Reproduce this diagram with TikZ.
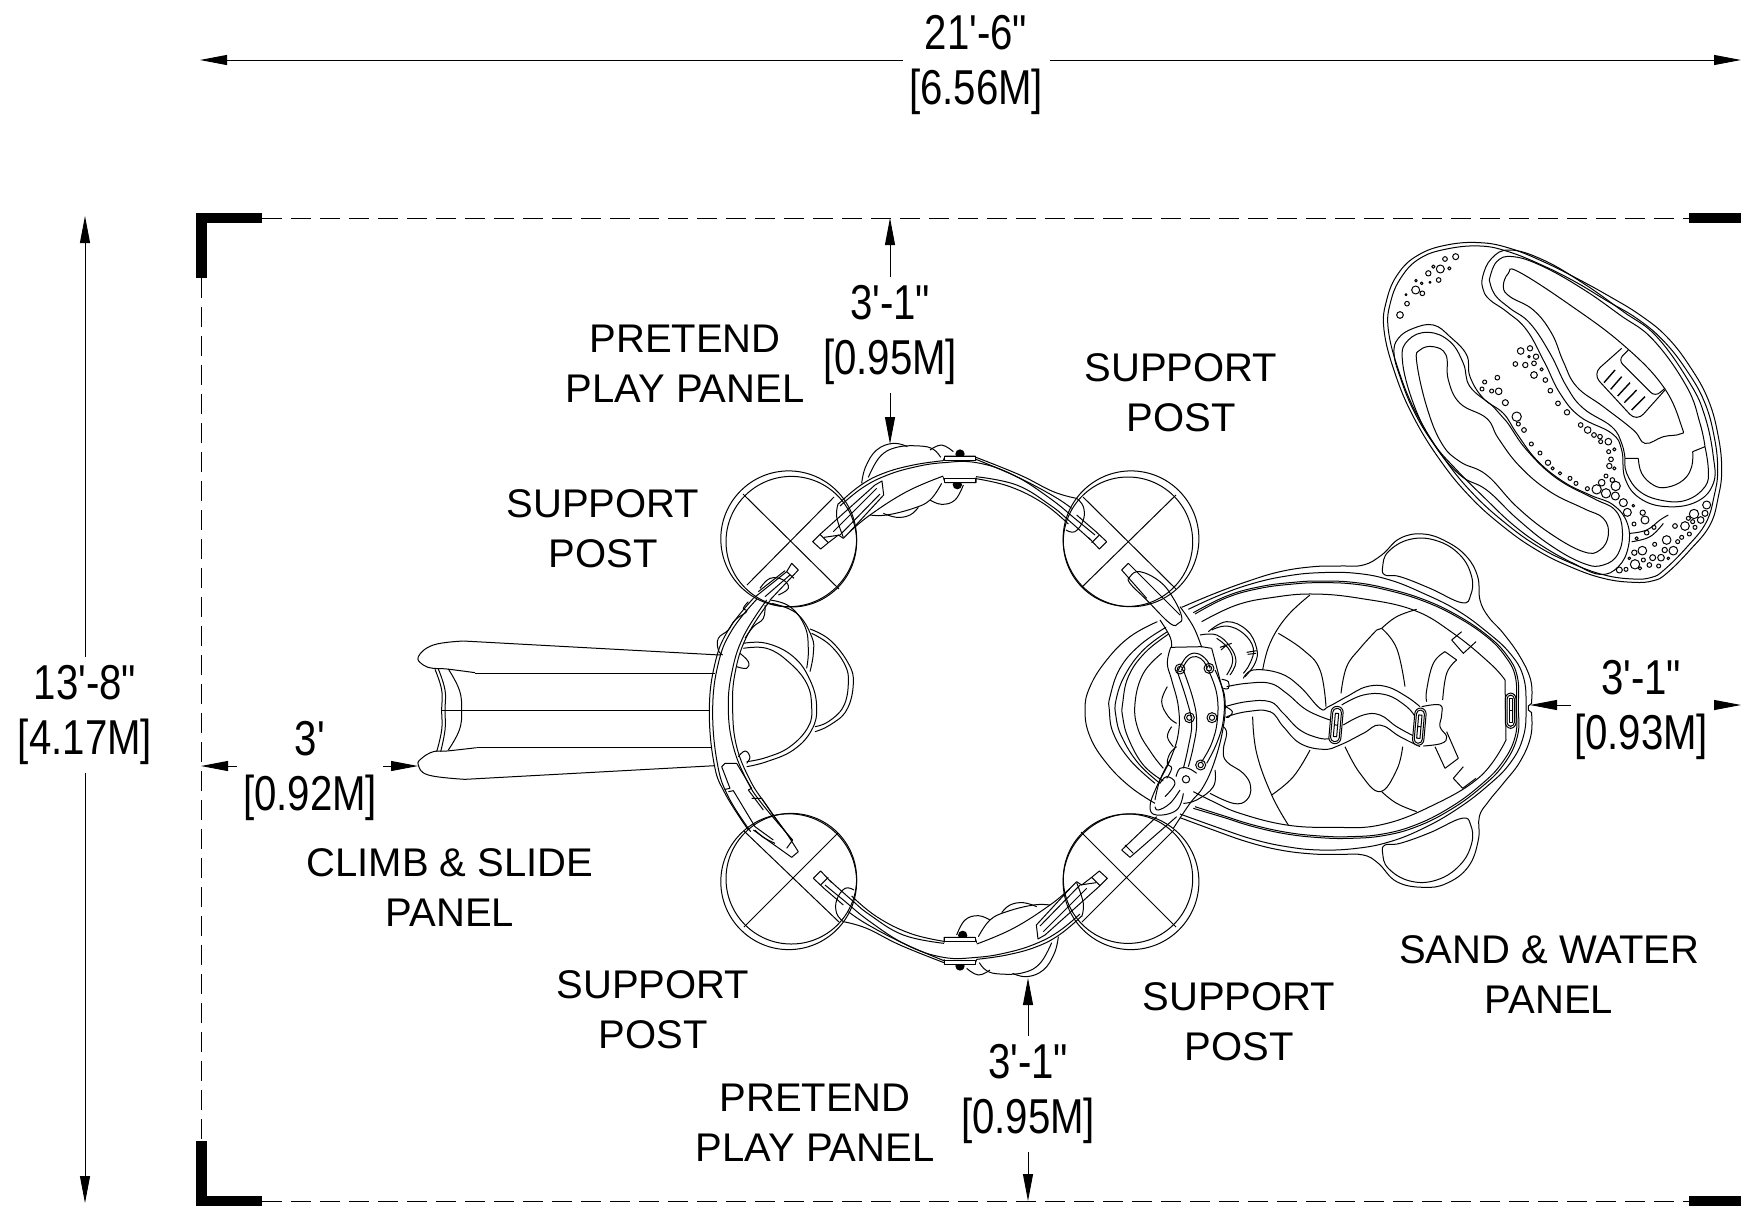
\documentclass[tikz,border=0pt]{standalone}
\usepackage{fontspec}
\usetikzlibrary{arrows.meta,calc}
\newfontfamily\cadfont{Liberation Sans}
\newcommand\cv[1]{\draw plot[smooth,tension=.7] coordinates {#1};}
\newcommand\cc[1]{\draw plot[smooth cycle,tension=.7] coordinates {#1};}
\newcommand\dsc[1]{\scalebox{.82}[1]{#1}}
\newcommand\ppanel{%
 \cv{(415,252)(480,197)(550,160)(640,135)(730,122)}
 \cv{(420,258)(485,205)(555,168)(640,142)(730,128)(830,128)(940,165)(1050,235)(1130,300)(1185,345)}
 \cv{(828,112)(960,165)(1060,215)(1130,235)}
 \cv{(828,118)(950,170)(1060,228)(1115,265)}
 \cv{(450,335)(510,285)(620,215)(730,168)}
 \cv{(828,170)(950,195)(1050,255)(1105,300)(1170,358)}
 \cv{(828,176)(930,200)(1030,250)(1105,312)}
 % plates and screws
 \draw (730,122)--(735,108)--(825,108)--(828,122);
 \draw (730,172)--(735,188)--(828,188)--(828,172);
 \fill (780,102) circle[radius=14];
 \fill (772,194) circle[radius=14];
 \draw[fill=white] (733,108) rectangle (826,120);
 \draw[fill=white] (733,176) rectangle (826,188);
 % left wide tab
 \draw (338,365)--(360,343)--(525,195)--(546,183)--(551,225)--(445,340)--(430,355)--(415,345)--(385,368)--(362,387)--cycle;
 \draw (360,343)--(385,368);
 \draw (372,352)--(420,345)--(540,222);
 \draw (400,335)--(530,205);
 % right thin tab
 \draw (1220,365)--(1198,387)--(1165,352);
 \draw (1220,365)--(1188,335)--(1130,285);
 \draw (1198,345)--(1175,368);
 % lobes behind
 \cv{(485,190)(497,140)(530,90)(580,70)(622,80)}
 \cv{(505,172)(540,110)(590,82)(660,78)(700,88)(722,112)}
 \cv{(690,90)(725,75)(760,95)}
 \cv{(510,285)(560,285)(640,265)(690,240)(725,190)}
 \cv{(550,280)(590,292)(630,285)(655,262)}
 \cv{(690,240)(725,253)(765,240)(790,195)}
 \cv{(415,250)(410,290)(430,352)}
 \cv{(1130,235)(1150,260)(1150,300)(1125,335)(1098,330)}
}
\begin{document}
\begin{tikzpicture}[x=.5pt,y=-.5pt,line width=.5pt,line join=round,
  dimarrow/.style={-{Triangle[length=13.5pt,width=5pt]},line width=.45pt},
  boundary/.style={dash pattern=on 10pt off 4.5pt,line width=.4pt},
  label/.style={font=\cadfont\fontsize{20}{25}\selectfont,align=center,inner sep=0pt},
  dimlabel/.style={font=\cadfont\fontsize{24.5}{27.5}\selectfont,align=center,inner xsep=3pt,inner ysep=4pt}]
\useasboundingbox (0,0) rectangle (1741,1206);

% boundary
\coordinate (tl) at (262,218); \coordinate (tr) at (1689,218);
\coordinate (lt) at (201,278); \coordinate (lb) at (201,1141);
\coordinate (bl) at (262,1201); \coordinate (br) at (1689,1201);
\draw[boundary] (tl)--(tr); \draw[boundary] (lt)--(lb); \draw[boundary] (bl)--(br);
\fill (196,213) rectangle (262,223);
\fill (196,213) rectangle (207,278);
\fill (196,1141) rectangle (207,1206);
\fill (196,1196) rectangle (262,1206);
\fill (1689,213) rectangle (1741,223);
\fill (1689,1196) rectangle (1741,1206);

% dimensions
\node[dimlabel] (dT) at (976,65) {\dsc{21'-6"}\\\dsc{[6.56M]}};
\coordinate (dTa) at (200,60); \coordinate (dTb) at (1741,60);
\draw[dimarrow] (dT.west|-dTa)--(dTa); \draw[dimarrow] (dT.east|-dTb)--(dTb);
\node[dimlabel] (dL) at (85,715) {\dsc{13'-8"}\\\dsc{[4.17M]}};
\coordinate (dLa) at (85,216); \coordinate (dLb) at (85,1203);
\draw[dimarrow] (dL.north)--(dLa); \draw[dimarrow] (dL.south)--(dLb);
\node[dimlabel] (d1) at (890,335) {\dsc{3'-1"}\\\dsc{[0.95M]}};
\coordinate (d1a) at (890,218); \coordinate (d1b) at (890,444);
\draw[dimarrow] (d1.north)--(d1a); \draw[dimarrow] (d1.south)--(d1b);
\node[dimlabel] (d2) at (1028,1094) {\dsc{3'-1"}\\\dsc{[0.95M]}};
\coordinate (d2a) at (1028,978); \coordinate (d2b) at (1028,1201);
\draw[dimarrow] (d2.north)--(d2a); \draw[dimarrow] (d2.south)--(d2b);
\node[dimlabel] (d3) at (310,771) {\dsc{3'}\\\dsc{[0.92M]}};
\coordinate (d3a) at (201,766); \coordinate (d3b) at (418,766);
\draw[dimarrow] ($(d3a)+(36,0)$)--(d3a); \draw[dimarrow] ($(d3b)+(-35,0)$)--(d3b);
\node[dimlabel] (d4) at (1641,710) {\dsc{3'-1"}\\\dsc{[0.93M]}};
\coordinate (d4a) at (1530,705); \coordinate (d4b) at (1741,705);
\draw[dimarrow] ($(d4a)+(41,0)$)--(d4a); \draw[dimarrow] ($(d4b)+(-26,0)$)--(d4b);

% labels
\node[label] (l1) at (685,364) {PRETEND\\PLAY PANEL};
\node[label] (l2) at (1181,393) {SUPPORT\\POST};
\node[label] (l3) at (603,529) {SUPPORT\\POST};
\node[label] (l4) at (450,888) {CLIMB \& SLIDE\\PANEL};
\node[label] (l5) at (653,1010) {SUPPORT\\POST};
\node[label] (l6) at (815,1123) {PRETEND\\PLAY PANEL};
\node[label] (l7) at (1239,1022) {SUPPORT\\POST};
\node[label] (l8) at (1549,975) {SAND \& WATER\\PANEL};

% posts
\draw (788.7,538.8) circle[radius=67.9]; \draw (791.3,541.7) circle[radius=65.3];
\draw (1131,538.8) circle[radius=67.9]; \draw (1128,541.7) circle[radius=64.7];
\draw (788.7,881.7) circle[radius=67.9]; \draw (791.3,878.7) circle[radius=65.3];
\draw (1131,881.7) circle[radius=67.9]; \draw (1128,878.7) circle[radius=64.7];
\draw (743,494)--(839,589) (834,497)--(747,585);
\draw (1083,497)--(1176,589) (1176,495)--(1082,587);
\draw (744,831)--(839,922) (838,833)--(744,927);
\draw (1081,832)--(1176,927) (1174,830)--(1082,922);

% pretend play panels
\begin{scope}[shift={(700,420)},scale=1/3]\ppanel\end{scope}
\begin{scope}[shift={(960,710)},rotate=180,shift={(-960,-710)},shift={(700,420)},scale=1/3]\ppanel\end{scope}

% climb and slide
\begin{scope}[shift={(400,550)},scale=1/3]
 \cv{(1060,145)(985,240)(945,340)(928,480)(942,640)(975,730)(1045,840)}
 \cv{(1070,148)(996,240)(955,340)(938,480)(952,640)(985,740)(1052,845)}
 \cv{(1100,150)(1030,260)(995,370)(985,480)(1000,590)(1040,690)(1085,760)(1178,870)}
 \cv{(1110,152)(1040,260)(1005,370)(998,480)(1010,590)(1050,690)(1095,760)(1160,850)}
 \draw (1060,145)--(1160,65)--(1175,40)--(1195,60)--(1110,150);
 \draw (1160,65)--(1182,85);
 \draw (1075,125)--(1155,62) (1095,140)--(1170,75);
 \draw (1195,905)--(1175,922)--(1060,840);
 \draw (1195,905)--(1160,850) (1178,870)--(1160,895);
 \draw (965,650)--(975,640)--(1010,640)--(1055,715)--(1045,720)--(1090,780);
 \draw (965,650)--(990,715)--(975,718);
 \draw (985,725)--(1000,722)--(1065,830)--(1120,870);
 \draw (1055,745)--(1085,745)--(1130,810)--(1175,870);
 \cv{(1065,840)(1090,862)(1125,880)}
 \cv{(1030,280)(1100,280)(1180,320)(1230,390)(1250,470)(1235,540)(1180,600)(1100,635)(1040,650)}
 \cv{(1030,295)(1100,295)(1165,335)(1220,400)(1235,470)(1225,530)(1170,590)(1100,622)(1040,635)}
 \cv{(1110,150)(1170,170)(1215,230)(1225,300)(1220,355)}
 \cv{(1115,160)(1190,190)(1235,260)(1240,310)(1230,365)}
 \cv{(1230,237)(1290,270)(1345,340)(1360,400)(1340,480)(1290,525)(1245,545)}
 \cv{(1235,250)(1290,285)(1335,345)(1345,400)(1330,470)(1285,515)(1245,530)}
 \cv{(1080,115)(1110,85)(1150,90)(1165,115)(1135,135)}
 \cv{(1045,155)(1030,175)(1040,185)(1005,210)(985,240)(955,265)(955,300)(968,315)}
 \cv{(1095,165)(1090,205)(1060,230)(1035,265)}
 \cv{(1020,310)(1045,335)(1040,355)(1010,350)}
 \cv{(1040,640)(1050,620)(1035,603)(1015,620)}
 \draw (960,315)--(190,273);
 \cv{(190,273)(100,285)(55,320)(70,345)(100,355)(140,357)(225,368)}
 \draw (225,370)--(945,370);
 \draw (125,481)--(930,481);
 \draw (230,593)--(935,593);
 \cv{(230,593)(140,603)(100,605)(65,625)(55,645)(85,675)(195,688)}
 \draw (195,688)--(945,647);
 \cv{(105,358)(125,420)(125,481)(125,540)(110,605)}
 \cv{(115,357)(135,420)(135,481)(135,540)(122,605)}
 \cv{(145,357)(178,420)(185,481)(178,540)(145,600)}
\end{scope}

% sand and water panel
\begin{scope}[shift={(1080,520)},scale=1/3]
 \cv{(1355,540)(1352,480)(1320,410)(1270,340)(1225,290)(1200,240)(1193,170)(1160,110)(1100,65)(1030,42)(960,55)(905,105)(850,135)(780,138)(700,140)(600,155)(500,185)(400,222)(305,262)}
 \cv{(1355,585)(1352,650)(1320,725)(1270,790)(1225,845)(1198,890)(1195,960)(1165,1040)(1100,1090)(1030,1102)(950,1085)(895,1030)(850,1005)(780,1003)(700,1002)(600,990)(500,965)(400,930)(300,893)}
 \draw (1355,540)--(1355,550)--(1345,558)--(1345,570)--(1355,578)--(1355,585);
 \cc{(908,140)(925,95)(990,58)(1070,62)(1140,105)(1175,170)(1172,225)(1145,248)(1050,205)(960,170)(915,165)}
 \cc{(908,1000)(925,1045)(990,1083)(1070,1080)(1140,1035)(1175,970)(1172,915)(1145,895)(1050,938)(960,970)(915,975)}
 \cv{(325,268)(420,225)(520,190)(620,168)(720,158)(830,160)(930,180)(1030,220)(1130,270)(1220,335)(1290,400)(1330,470)(1338,560)(1330,650)(1290,730)(1220,800)(1130,868)(1030,925)(930,965)(830,985)(720,990)(620,980)(520,958)(420,925)(300,882)}
 \cv{(340,278)(440,228)(540,200)(640,187)(720,183)(820,187)(920,205)(1030,238)(1130,285)(1220,345)(1280,405)(1312,470)(1315,560)(1312,650)(1270,735)(1200,805)(1110,870)(1010,920)(910,947)(810,955)(720,953)(620,942)(520,920)(430,892)(340,865)}
 \cv{(345,282)(440,233)(540,205)(640,192)(720,188)(820,192)(920,210)(1030,243)(1130,290)(1220,350)(1275,408)(1306,470)(1309,560)(1306,648)(1265,730)(1196,800)(1106,865)(1006,915)(908,942)(810,950)(720,948)(620,937)(520,915)(430,887)(345,860)}
 \cv{(365,305)(470,255)(580,232)(700,222)(840,235)(1000,270)(1120,340)(1230,430)(1275,480)}
 \draw (1275,480)--(1278,660);
 \cv{(1278,660)(1200,770)(1050,860)(900,915)(760,922)(620,915)(480,880)(400,845)(340,815)}
 \cv{(232,305)(150,350)(80,420)(30,500)(15,570)(30,650)(80,730)(150,800)(225,850)}
 \cv{(258,322)(180,375)(120,445)(90,530)(88,570)(100,640)(150,720)(225,790)}
 \cv{(262,335)(190,390)(135,465)(108,540)(108,590)(125,650)(175,730)(240,790)}
 \cv{(266,342)(195,398)(145,470)(128,550)(128,590)(145,655)(190,735)(250,783)}
 \cv{(245,400)(190,460)(165,550)(175,630)(215,700)(250,745)}
 \cv{(690,225)(620,290)(570,370)(548,450)}
 \cv{(595,340)(670,390)(720,450)(738,560)}
 \cv{(518,590)(530,700)(575,825)(625,915)}
 \cv{(575,825)(640,770)(690,690)}
 \cv{(783,520)(800,440)(840,385)(890,330)}
 \cv{(905,325)(950,385)(975,500)}
 \cv{(795,680)(840,760)(900,815)(950,750)(968,680)}
 \draw (890,330)--(905,325);
 \cv{(905,325)(950,290)(1010,268)}
 \cv{(905,815)(950,850)(1010,875)}
 \cv{(1095,395)(1060,430)(1040,510)(1040,545)}
 \cv{(1130,420)(1100,460)(1088,540)}
 \cv{(1065,680)(1095,745)}
 \cv{(1100,635)(1135,715)}
 \draw (1095,395)--(1130,420) (1095,745)--(1135,715);
 \draw (1115,360)--(1150,400)--(1188,365) (1115,360)--(1145,335);
 \draw (1120,775)--(1150,740) (1120,775)--(1148,805)--(1188,775);
 % pipe
 \cv{(490,475)(520,450)(600,460)(660,500)(720,565)(745,560)(800,530)(860,500)(920,500)(980,530)(1020,560)}
 \cv{(440,500)(500,490)(570,490)(620,520)(680,570)(750,600)}
 \cv{(785,555)(850,525)(920,525)(980,560)(1005,590)}
 \cv{(435,560)(500,545)(570,545)(610,580)(660,630)(720,655)(755,655)}
 \cv{(790,615)(850,585)(900,585)(950,620)(1005,650)}
 \cv{(440,590)(500,575)(570,575)(610,620)(660,670)(730,688)(780,675)(850,640)(900,615)(960,650)(1020,680)}
 \draw[fill=white,rounded corners=2.9pt,rotate around={-5:(768,615)}] (750,559) rectangle (786,671);
 \draw[rounded corners=2pt,rotate around={-5:(768,615)}] (755,565) rectangle (781,665);
 \draw[rotate around={-5:(768,615)}] (763,580) rectangle (773,650) (763,615)--(773,615);
 \cv{(1025,560)(1080,555)(1085,585)(1080,620)(1100,650)(1085,670)(1030,678)}
 \draw[fill=white,rounded corners=2.9pt,rotate around={-5:(1018,620)}] (1001,564) rectangle (1035,676);
 \draw[rounded corners=2pt,rotate around={-5:(1018,620)}] (1006,570) rectangle (1030,670);
 \draw[rotate around={-5:(1018,620)}] (1013,585) rectangle (1023,655) (1013,620)--(1023,620);
 \draw[rounded corners=2.9pt] (1276,519) rectangle (1308,625);
 \draw[rounded corners=2pt] (1281,525) rectangle (1303,619);
 \draw (1287,535) rectangle (1297,608) (1287,572)--(1297,572);
 % attached panel
 \draw (125,150)--(145,130)--(300,285);
 \cc{(150,170)(180,155)(240,185)(280,235)(305,290)(295,310)(270,310)(200,240)(150,190)}
 \draw (125,150)--(200,235);
 \cv{(240,300)(270,350)(275,382)}
 \cv{(300,260)(340,320)(365,382)}
 \draw (272,382)--(365,380)--(395,385);
 \cv{(395,385)(420,480)(435,540)(430,620)(405,720)(370,800)(330,850)(280,925)}
 \cv{(272,382)(262,430)(275,480)(295,560)(295,640)(270,720)(230,800)(210,860)(230,885)(290,870)(310,820)}
 \cv{(225,860)(235,870)(270,850)(300,810)}
 \cv{(290,450)(320,540)(335,610)(325,680)(310,745)}
 \cv{(310,450)(340,540)(350,610)(340,680)(325,740)}
 \cv{(405,450)(430,520)(430,600)(410,670)(380,730)}
 \cv{(385,450)(410,520)(412,600)(395,670)(365,725)}
 \cv{(295,450)(320,410)(350,400)(380,420)(390,445)}
 \cv{(305,450)(325,418)(350,410)(372,425)(382,445)}
 \foreach \x/\y in {300/447,387/445,328/593,396/593,362/735}{
  \draw (\x,\y) circle[radius=15]; \draw (\x,\y) circle[radius=8];}
 \draw (318,778) circle[radius=11];
 \cv{(288,770)(300,745)(325,745)(350,760)}
 \draw (125,990)--(150,1012)--(290,890) (125,990)--(230,890);
 \draw (135,975)--(160,1000);
 \cv{(262,500)(245,545)(265,590)(290,610)}
 \cv{(275,620)(262,650)(280,680)}
 \cv{(270,720)(240,780)(225,840)}
 \cv{(430,620)(440,640)(430,690)(440,725)(490,760)(512,800)(500,840)(460,850)(390,820)}
 \cv{(405,750)(400,800)(350,840)(310,850)}
 \cv{(290,680)(270,700)(262,730)(275,745)(260,775)}
 \cv{(240,790)(260,770)(285,790)(255,830)}
 % fixture
 \cv{(385,335)(440,305)(500,330)(530,385)(525,430)(495,470)}
 \cv{(395,330)(440,318)(490,340)(520,385)(510,430)(490,460)}
 \cv{(360,345)(410,345)(450,380)(468,425)(450,465)}
 \cv{(410,355)(445,385)(458,425)(440,465)}
 \draw (420,382)--(455,370) (423,390)--(440,375);
 \draw (500,397)--(530,392) (503,403)--(528,400);
 \cv{(425,478)(445,485)(445,505)(430,505)}
 \cv{(437,560)(457,575)(445,592)(437,590)}
\end{scope}

% sand table
\begin{scope}[shift={(1370,230)},scale=1/3]
 \cc{(42,300)(50,210)(85,130)(145,75)(230,45)(330,38)(420,55)(520,95)(620,145)(720,200)(810,255)(890,320)(960,410)(1015,510)(1045,620)(1055,720)(1045,800)(1020,885)(960,960)(890,1030)(850,1052)(790,1057)(700,1045)(600,1010)(500,960)(400,890)(300,800)(210,690)(130,560)(75,430)}
 \cc{(55,300)(62,215)(95,140)(150,85)(230,57)(330,48)(415,65)(515,105)(615,155)(710,212)(800,265)(878,330)(948,418)(1003,515)(1033,622)(1043,720)(1033,795)(1008,878)(950,952)(882,1020)(845,1042)(790,1047)(703,1035)(605,1000)(505,950)(407,880)(308,790)(220,682)(140,552)(87,425)}
 \cc{(338,140)(365,85)(420,60)(520,90)(640,160)(760,245)(860,320)(960,460)(1005,560)(1030,680)(1030,760)(980,815)(890,830)(810,805)(765,745)(755,660)(725,610)(630,560)(570,490)(525,400)(470,300)(410,245)(360,210)(340,180)}
 \cv{(358,150)(380,95)(430,80)(520,110)(640,178)(750,255)(850,330)(950,470)(990,580)(1005,650)}
 \cv{(1005,650)(1015,720)(1005,770)(950,810)(880,812)(810,785)(770,730)(765,685)}
 \cv{(358,150)(375,195)(420,235)(480,280)(540,370)(590,470)(640,535)(725,590)(755,640)(765,685)}
 \cc{(400,170)(420,200)(490,240)(545,310)(580,395)(620,470)(700,530)(790,600)(825,640)(880,620)(930,612)(935,590)(880,470)(760,345)(600,225)(445,125)(415,130)}
 \draw (765,685)--(805,685) (968,665)--(1005,650);
 \cv{(805,685)(815,730)(850,765)(890,772)(940,750)(965,710)(968,665)}
 \draw[rounded corners=5pt] (755,355)--(668,432)--(800,575)--(885,480);
 \draw[rounded corners=3pt] (775,360)--(745,390)--(855,500)--(885,475);
 \draw[line width=.7pt] (702,458)--(735,420) (722,478)--(755,440) (743,498)--(780,458) (763,518)--(800,480) (785,540)--(825,500);
 \cc{(72,370)(85,325)(130,295)(190,285)(240,320)(290,375)(300,440)(340,505)(400,550)(440,610)(500,690)(580,755)(660,795)(730,825)(772,880)(775,950)(745,1010)(690,1033)(610,1000)(520,950)(430,885)(340,800)(260,720)(190,640)(130,540)(90,440)}
 \cc{(97,390)(115,330)(175,307)(240,335)(280,400)(300,470)(370,530)(410,575)(470,660)(560,745)(670,805)(735,840)(757,900)(745,970)(700,1005)(640,1000)(540,945)(440,865)(350,780)(270,735)(190,640)(130,520)}
 \cc{(140,395)(150,360)(190,350)(228,375)(235,450)(270,520)(350,565)(385,625)(450,710)(540,785)(640,835)(700,865)(715,915)(690,960)(640,965)(540,910)(440,830)(350,735)(270,695)(215,640)(170,530)}
 \cv{(780,910)(830,900)(870,870)(895,855)}
 \cv{(785,935)(840,920)(880,880)}
 \foreach \x/\y/\r in {257/80/9,211/117/12,225/87/7,238/115/5,175/130/8,190/110/5,206/150/7,180/157/3,155/160/4,138/152/4,137/180/12,157/190/7,108/194/3,111/221/7,90/255/10,452/363/10,480/355/8,477/380/4,498/380/8,436/402/7,466/405/8,492/400/7,492/435/10,515/418/5,526/450/7,541/482/7,564/520/7,591/547/8,344/456/6,382/443/7,336/477/6,365/483/6,386/484/10,406/518/9,440/560/14,445/582/6,462/600/7,484/642/6,510/669/6,534/698/8,548/715/5,570/730/5,600/745/6,618/760/6,632/585/7,653/600/10,672/615/7,690/620/7,715/635/10,692/635/6,716/665/6,733/658/5,723/688/7,718/708/8,733/715/5,708/738/6,695/758/10,727/750/7,652/776/6,680/778/14,737/768/14,708/790/14,736/798/12,760/818/12,772/847/12,790/827/4,818/848/8,825/870/12,792/882/6,852/892/6,830/908/7,800/925/5,854/943/6,890/930/13,817/962/13,793/968/8,778/985/4,795/1003/14,820/990/6,838/1005/7,810/1015/5,748/1020/9,768/1018/6,848/983/9,873/983/10,884/960/8,910/962/13,895/985/4,866/1008/6,923/935/6,935/922/6,958/912/6,915/888/7,945/888/13,972/852/14,955/865/6,968/875/6,975/892/6,992/870/10,1010/825/12,1005/850/9}
  {\draw (\x,\y) circle[radius=\r];}
\end{scope}
\end{tikzpicture}
\end{document}
